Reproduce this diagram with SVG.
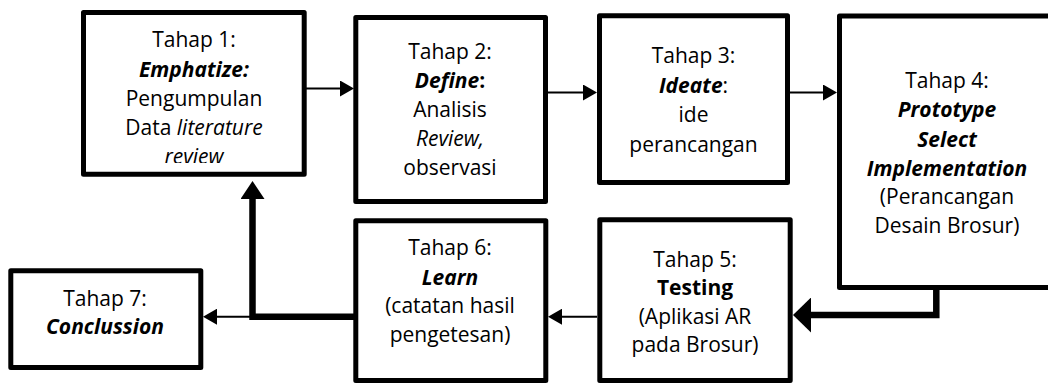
<svg xmlns="http://www.w3.org/2000/svg" width="1048" height="383" viewBox="0 0 1048 383">
<style>
.box{fill:#fff;stroke:#000;stroke-width:5;stroke-linejoin:round}
text{font-family:"Open Sans","Noto Sans",sans-serif;font-size:21px;fill:#000;text-anchor:middle}
.bi{font-weight:bold;font-style:italic}
.b{font-weight:bold}
.i{font-style:italic}
.thin{fill:none;stroke:#000;stroke-width:2}
.thick{fill:none;stroke:#000;stroke-width:6.5}
</style>
<defs>
<marker id="arr" markerUnits="userSpaceOnUse" viewBox="0 0 14 16" refX="0" refY="8" markerWidth="14" markerHeight="16" orient="auto"><path d="M0,0 L14,8 L0,16 z" fill="#000"/></marker>
<marker id="arrBig" markerUnits="userSpaceOnUse" viewBox="0 0 18 35" refX="0" refY="17.5" markerWidth="18" markerHeight="35" orient="auto"><path d="M0,0 L18,17.5 L0,35 z" fill="#000"/></marker>
<marker id="arrMid" markerUnits="userSpaceOnUse" viewBox="0 0 18 24" refX="0" refY="12" markerWidth="18" markerHeight="24" orient="auto"><path d="M0,0 L18,12 L0,24 z" fill="#000"/></marker>
<clipPath id="c1"><rect x="86" y="15" width="216" height="148"/></clipPath>
</defs>

<g id="connectors">
<path class="thin" d="M306,88.5 H340" marker-end="url(#arr)"/>
<path class="thin" d="M548,92.5 H583" marker-end="url(#arr)"/>
<path class="thin" d="M790,92.5 H823" marker-end="url(#arr)"/>
<path class="thin" d="M597,316.7 H562" marker-end="url(#arr)"/>
<path class="thin" d="M252,316.7 H217" marker-end="url(#arr)"/>
<path class="thick" d="M936.3,289 V315 H811" marker-end="url(#arrBig)"/>
<path class="thick" d="M354,316.7 H252.5 V199" marker-end="url(#arrMid)"/>
</g>

<g id="n1">
<rect class="box" x="83.5" y="12.5" width="220.7" height="161.7"/>
<g clip-path="url(#c1)">
<text x="194" y="47">Tahap 1:</text>
<text x="194" y="77" class="bi">Emphatize:</text>
<text x="194" y="106">Pengumpulan</text>
<text x="194" y="135">Data <tspan class="i">literature</tspan></text>
<text x="194" y="164" class="i">review</text>
</g>
</g>

<g id="n2">
<rect class="box" x="355.8" y="17.5" width="189.7" height="184"/>
<text x="450" y="59">Tahap 2:</text>
<text x="450" y="88"><tspan class="bi">Define</tspan><tspan class="b">:</tspan></text>
<text x="450" y="117">Analisis</text>
<text x="450" y="146" class="i">Review,</text>
<text x="450" y="175">observasi</text>
</g>

<g id="n3">
<rect class="box" x="599.5" y="15.8" width="188" height="166.7"/>
<text x="693.5" y="63">Tahap 3:</text>
<text x="693.5" y="93"><tspan class="bi">Ideate</tspan>:</text>
<text x="693.5" y="122">ide</text>
<text x="693.5" y="152">perancangan</text>
</g>

<g id="n4">
<rect class="box" x="839.5" y="16" width="220" height="271.5"/>
<text x="947" y="88">Tahap 4:</text>
<text x="947" y="117" class="bi">Prototype</text>
<text x="947" y="147" class="bi">Select</text>
<text x="947" y="176" class="bi">Implementation</text>
<text x="947" y="204">(Perancangan</text>
<text x="947" y="233">Desain Brosur)</text>
</g>

<g id="n5">
<rect class="box" x="599.8" y="219.8" width="190.4" height="160.7"/>
<text x="695" y="266.7">Tahap 5:</text>
<text x="695" y="295" class="b">Testing</text>
<text x="695" y="324">(Aplikasi AR</text>
<text x="695" y="352">pada Brosur)</text>
</g>

<g id="n6">
<rect class="box" x="355.8" y="220.8" width="190" height="159.7"/>
<text x="450" y="255">Tahap 6:</text>
<text x="450" y="285" class="bi">Learn</text>
<text x="450" y="313">(catatan hasil</text>
<text x="450" y="342">pengetesan)</text>
</g>

<g id="n7">
<rect class="box" x="10.8" y="270.8" width="190" height="96.7"/>
<text x="105" y="306">Tahap 7:</text>
<text x="105" y="334" class="bi">Conclussion</text>
</g>
</svg>
